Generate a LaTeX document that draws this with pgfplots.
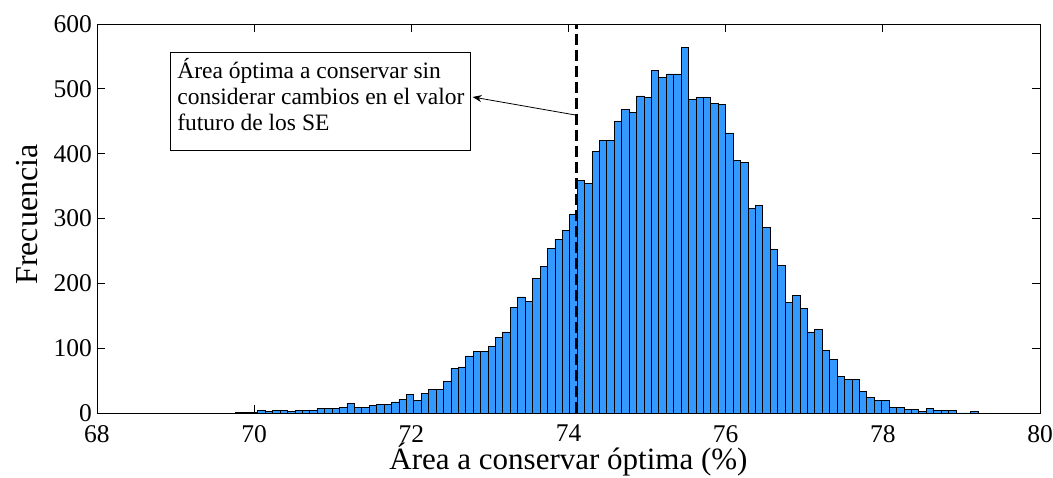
\documentclass[border=0pt]{standalone}
\usepackage{pgfplots}
\pgfplotsset{compat=1.18}
\usepackage{pgfplotstable}
\usepackage{fontspec}
\setmainfont{Liberation Serif}
\usetikzlibrary{arrows.meta}
\definecolor{histblue}{RGB}{51,153,255}
\pgfplotstableread{
x y
69.763 1
69.858 1
69.952 1
70.047 4
70.141 2
70.236 4
70.330 4
70.425 2
70.519 4
70.614 4
70.708 4
70.803 7
70.897 7
70.992 7
71.086 9
71.181 15
71.275 9
71.370 9
71.464 11
71.559 13
71.653 13
71.748 17
71.842 21
71.937 28
72.031 19
72.126 30
72.220 37
72.315 37
72.409 48
72.504 69
72.598 71
72.693 88
72.787 95
72.882 95
72.976 103
73.071 117
73.165 125
73.260 163
73.354 179
73.449 172
73.543 208
73.638 226
73.732 254
73.827 268
73.921 281
74.016 307
74.110 358
74.205 354
74.299 403
74.394 420
74.488 421
74.583 449
74.677 468
74.772 463
74.866 489
74.961 487
75.055 528
75.150 518
75.244 523
75.339 523
75.433 564
75.528 483
75.622 487
75.717 487
75.811 478
75.906 476
76.000 432
76.095 389
76.189 386
76.284 315
76.378 320
76.473 286
76.567 252
76.662 228
76.756 170
76.851 181
76.945 161
77.040 125
77.134 129
77.229 97
77.323 82
77.418 56
77.512 52
77.607 52
77.701 33
77.796 24
77.890 20
77.985 20
78.079 9
78.174 9
78.268 5
78.363 5
78.457 3
78.552 7
78.646 4
78.741 4
78.835 4
78.930 0
79.024 0
79.119 2
79.213 0
}\histdata
\begin{document}
\begin{tikzpicture}
\begin{axis}[
  scale only axis, width=943pt, height=389pt,
  xmin=68, xmax=80, ymin=0, ymax=600,
  xtick={68,70,...,80}, ytick={0,100,...,600},
  tick align=inside, tick pos=both,
  major tick length=8pt,
  axis line style={line width=0.9pt},
  tick style={line width=0.8pt, black},
  /pgf/number format/assume math mode=true,
  ticklabel style={font=\fontsize{25.5}{30}\selectfont, inner sep=1pt},
  xticklabel style={anchor=north, yshift=-11pt},
  yticklabel style={anchor=east, xshift=-4pt},
  xlabel={Área a conservar óptima (\%)},
  ylabel={Frecuencia},
  xlabel style={font=\fontsize{31}{34}\selectfont, inner sep=0pt,
    at={(axis description cs:0.5,-0.146)}, anchor=base},
  ylabel style={font=\fontsize{32}{36}\selectfont,
    at={(axis description cs:-0.074,0.51)}, anchor=center},
]
\addplot[ybar interval, fill=histblue, draw=black, line width=0.8pt] table[x=x,y=y] {\histdata};
\draw[line width=3.5pt, dash pattern=on 11pt off 5pt] (axis cs:74.1,0) -- (axis cs:74.1,600);
\draw[line width=0.8pt, fill=white] (axis cs:68.929,405.7) rectangle (axis cs:72.747,556.8);
\node[anchor=north west, align=left, inner sep=0pt, font=\fontsize{23.5}{26}\selectfont]
  at (axis cs:69.02,547) {Área óptima a conservar sin\\considerar cambios en el valor\\futuro de los SE};
\draw[line width=0.8pt, -{Stealth[length=9pt,width=7pt]}] (axis cs:74.083,459.7) -- (axis cs:72.78,487.4);
\coordinate (bl) at (rel axis cs:0,0);
\coordinate (tr) at (rel axis cs:1,1);
\end{axis}
\pgfresetboundingbox
\path ([shift={(-97pt,-65pt)}]bl) rectangle ([shift={(13pt,24pt)}]tr);
\end{tikzpicture}
\end{document}
